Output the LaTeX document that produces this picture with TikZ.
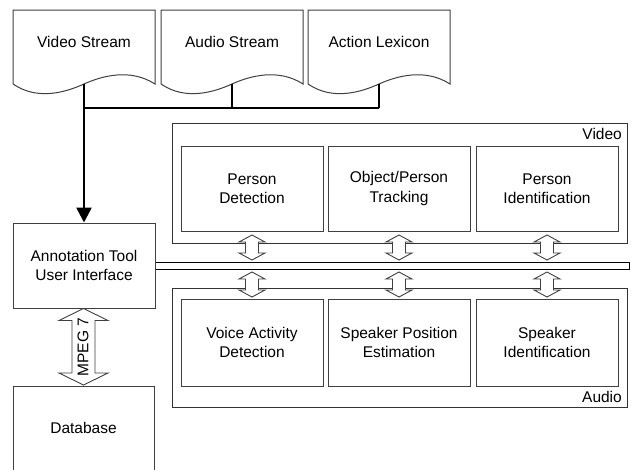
\documentclass[tikz,border=0pt]{standalone}
\usepackage{fontspec}
\setmainfont{Liberation Sans}
\usetikzlibrary{arrows.meta}
\newcommand\mainfs{\fontsize{15.5}{19.5}\selectfont}
\newcommand\docshape[2]{%
  \pgfmathsetmacro\dxa{#1}\pgfmathsetmacro\dxb{#2}%
  \pgfmathsetmacro\dh{(#2-#1)/2}\pgfmathsetmacro\dm{(#1+#2)/2}%
  \draw[docline] (\dxa,84) -- (\dxa,10) -- (\dxb,10) -- (\dxb,84)
    .. controls (\dxb-0.35*\dh,68) and (\dm+0.25*\dh,76) .. (\dm,84)
    .. controls (\dm-0.25*\dh,92) and (\dxa+0.35*\dh,101) .. (\dxa,84) -- cycle;}
\newcommand\dblarrow[6]{% x, ytop, ybot, head half width, shaft half width, head length
  \draw[fatarrow] (#1,#2) -- (#1+#4,#2+#6) -- (#1+#5,#2+#6) -- (#1+#5,#3-#6) -- (#1+#4,#3-#6)
    -- (#1,#3) -- (#1-#4,#3-#6) -- (#1-#5,#3-#6) -- (#1-#5,#2+#6) -- (#1-#4,#2+#6) -- cycle;}
\begin{document}
\begin{tikzpicture}[x=1pt,y=-1pt,
  docline/.style={draw=black!75,line width=1pt,fill=white},
  box/.style={draw=black!75,line width=1pt,fill=white,align=center,font=\mainfs,inner sep=0pt},
  proc/.style={box,minimum width=142pt,minimum height=85pt},
  group/.style={draw=black!80,line width=1pt},
  lbl/.style={font=\mainfs,align=center,inner sep=0pt},
  thin/.style={line width=1.6pt,draw=black},
  thick/.style={line width=2.6pt,draw=black},
  fatarrow/.style={draw=black!75,line width=0.9pt,fill=white,line join=miter}]
\clip (0,0) rectangle (631,469);
\fill[white] (0,0) rectangle (631,469);

% documents
\docshape{13}{155}
\docshape{161}{303}
\docshape{308}{450}
\node[lbl] (vs) at (84,42) {Video Stream};
\node[lbl] (as) at (232,42) {Audio Stream};
\node[lbl] (al) at (379,42) {Action Lexicon};
\coordinate (vsb) at (84,84);
\coordinate (asb) at (232,84);
\coordinate (alb) at (379,84);
\coordinate (j1) at (84,108);
\coordinate (j2) at (232,108);
\coordinate (j3) at (379,108);

% left column
\node[box,minimum width=142pt,minimum height=85pt] (ann) at (84,265.5) {Annotation Tool\\User Interface};
\node[box,minimum width=141pt,minimum height=84pt] (db) at (83.5,428) {Database};

% connectors from documents
\draw[thin] (asb) -- (j2);
\draw[thin] (alb) -- (j3);
\draw[thick] (j1) -- (j3);
\draw[thick,-{Triangle[length=15pt,width=15pt]}] (vsb) -- (ann.north);

% groups
\draw[group] (172,123) rectangle (627,243);
\draw[group] (172,288) rectangle (627,407);
\node[lbl,anchor=base east] (vlab) at (622,139) {Video};
\node[lbl,anchor=base east] (alab) at (622,402) {Audio};

% video processes
\node[proc] (pd) at (252,188.5) {Person\\Detection};
\node[proc] (opt) at (399,188.5) {Object/Person\\Tracking};
\node[proc] (pid) at (547,188.5) {Person\\Identification};
% audio processes
\node[proc,minimum height=87pt] (vad) at (252,342.5) {Voice Activity\\Detection};
\node[proc,minimum height=87pt] (spe) at (399,342.5) {Speaker Position\\Estimation};
\node[proc,minimum height=87pt] (sid) at (547,342.5) {Speaker\\Identification};

% bus
\draw[draw=black,line width=1pt] (ann.east |- 0,262) -- (629,262) -- (629,269) -- (ann.east |- 0,269);

% small double arrows
\foreach \x in {252,399,547} {
  \dblarrow{\x}{235}{260}{13}{6.5}{7}
  \dblarrow{\x}{272}{297}{13}{6.5}{7}
}
% MPEG 7 arrow
\dblarrow{83.5}{308.5}{385}{24.5}{11.5}{12}
\node[lbl,rotate=90] (mpeg) at (83,347) {MPEG 7};
\end{tikzpicture}
\end{document}
